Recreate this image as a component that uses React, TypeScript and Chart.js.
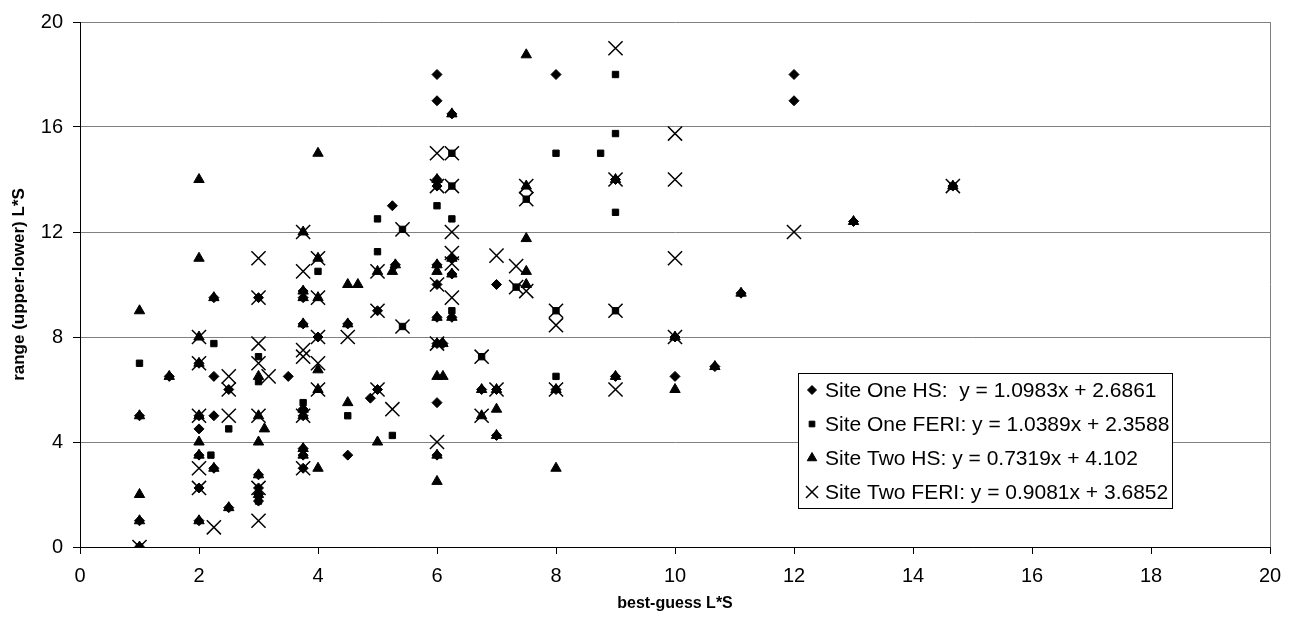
import React, { useEffect, useRef } from 'react';
import Chart from 'chart.js/auto';
import { drawPoint } from 'chart.js/helpers';

type P = [number, number];

// Site One HS (diamonds)
const siteOneHS: P[] = [
  [1, 0], [1, 1], [1, 5], [1.5, 6.5], [2, 1], [2, 2.25], [2, 3.5], [2, 4.5], [2, 5], [2, 7],
  [2.25, 3], [2.25, 5], [2.25, 6.5], [2.25, 9.5], [2.5, 1.5], [2.5, 6], [3, 1.75], [3, 2], [3, 2.25],
  [3, 2.75], [3, 9.5], [3.5, 6.5], [3.75, 3], [3.75, 3.5], [3.75, 3.75], [3.75, 5], [3.75, 5.25],
  [3.75, 8.5], [3.75, 9.5], [3.75, 9.75], [4, 8], [4.5, 3.5], [4.5, 8.5], [4.88, 5.67], [5, 6], [5, 9],
  [5.25, 13], [5.3, 10.75], [6, 3.5], [6, 5.5], [6, 7.75], [6, 8.75], [6, 10], [6, 10.75], [6, 13.75],
  [6, 14], [6, 17], [6, 18], [6.1, 7.75], [6.25, 8.75], [6.25, 10.4], [6.25, 11], [6.25, 16.5],
  [6.75, 6], [7, 4.25], [7, 6], [7, 10], [8, 6], [8, 18], [9, 6.5], [9, 14], [10, 6.5], [10, 8],
  [10.67, 6.875], [11.11, 9.67], [12, 17], [12, 18], [13, 12.4], [14.67, 13.75]
];

// Site One FERI (squares)
const siteOneFERI: P[] = [
  [1, 0], [1, 7], [2.2, 3.5], [2.25, 7.75], [2.5, 4.5], [3, 1.75], [3, 2], [3, 6.3], [3, 7.25],
  [3.75, 5.5], [4, 10.5], [4.5, 5], [5, 11.25], [5, 12.5], [5.25, 4.25], [5.42, 8.4], [5.42, 12.1],
  [6, 13], [6.25, 9], [6.25, 12.5], [6.25, 13.75], [6.25, 15], [6.75, 7.25], [7.33, 9.9], [7.5, 13.25],
  [8, 6.5], [8, 9], [8, 15], [8.75, 15], [9, 9], [9, 12.75], [9, 15.75], [9, 18], [14.67, 13.75]
];

// Site Two HS (triangles)
const siteTwoHS: P[] = [
  [1, 0], [1, 1], [1, 2], [1, 5], [1, 9], [1.5, 6.5], [2, 1], [2, 3.5], [2, 4], [2, 5], [2, 7], [2, 8],
  [2, 11], [2, 14], [2.25, 3], [2.25, 9.5], [2.5, 1.5], [3, 2.75], [3, 2], [3, 4], [3, 5], [3, 6.5],
  [3.1, 4.5], [3.75, 3.5], [3.75, 3.75], [3.75, 5], [3.75, 5.25], [3.75, 8.5], [3.75, 9.5], [3.75, 9.75],
  [3.75, 12], [4, 3], [4, 6], [4, 6.75], [4, 9.5], [4, 11], [4, 15], [4.5, 5.5], [4.5, 8.5], [4.5, 10],
  [4.67, 10], [5, 4], [5, 10.5], [5.25, 10.5], [5.3, 10.75], [6, 2.5], [6, 3.5], [6, 6.5], [6, 7.75],
  [6, 8.75], [6, 10.5], [6, 10.75], [6, 14], [6.1, 6.5], [6.1, 7.75], [6.25, 8.75], [6.25, 10.4],
  [6.25, 11], [6.25, 16.5], [6.75, 5], [6.75, 6], [7, 4.25], [7, 5.25], [7, 6], [7.5, 10], [7.5, 10.5],
  [7.5, 11.75], [7.5, 13.75], [7.5, 18.75], [8, 3], [8, 6], [9, 6.5], [9, 14], [10, 6], [10, 8],
  [10.67, 6.875], [11.11, 9.67], [13, 12.4], [14.67, 13.75]
];

// Site Two FERI (crosses)
const siteTwoFERI: P[] = [
  [1, 0], [2, 2.25], [2, 3], [2, 5], [2, 7], [2, 8], [2.25, 0.75], [2.5, 5], [2.5, 6], [2.5, 6.5],
  [3, 1], [3, 2.25], [3, 5], [3, 7], [3, 7.75], [3, 9.5], [3, 11], [3.17, 6.5], [3.75, 3], [3.75, 5],
  [3.75, 7.25], [3.75, 7.5], [3.75, 10.5], [3.75, 12], [4, 6], [4, 7], [4, 8], [4, 9.5], [4, 11],
  [4.5, 8], [5, 6], [5, 9], [5, 10.5], [5.25, 5.25], [5.42, 8.4], [5.42, 12.1], [6, 4], [6, 7.75],
  [6, 10], [6, 13.75], [6, 15], [6.25, 9.5], [6.25, 10.8], [6.25, 11.2], [6.25, 12], [6.25, 13.75],
  [6.25, 15], [6.75, 5], [6.75, 7.25], [7, 6], [7, 11.1], [7.33, 9.9], [7.33, 10.7], [7.5, 9.75],
  [7.5, 13.25], [7.5, 13.75], [8, 6], [8, 8.45], [8, 9], [9, 6], [9, 9], [9, 14], [9, 19], [10, 8],
  [10, 11], [10, 14], [10, 15.75], [12, 12], [14.67, 13.75]
];

const seriesLabels = [
  'Site One HS:  y = 1.0983x + 2.6861',
  'Site One FERI: y = 1.0389x + 2.3588',
  'Site Two HS: y = 0.7319x + 4.102',
  'Site Two FERI: y = 0.9081x + 3.6852',
];

const xTicks = [0, 2, 4, 6, 8, 10, 12, 14, 16, 18, 20];
const yTicks = [0, 4, 8, 12, 16, 20];
const xTitle = 'best-guess L*S';
const yTitle = 'range (upper-lower) L*S';

const FONT = '"Liberation Sans", Arial, Helvetica, sans-serif';

const markerStyles = [
  { style: 'rectRot', r: 5, bw: 1, lr: 4.5 },
  { style: 'rect', r: 4.5, bw: 1, lr: 4 },
  { style: 'triangle', r: 6, bw: 1, lr: 5.5 },
  { style: 'crossRot', r: 10, bw: 1.5, lr: 8.5 },
];

const legendPlugin = {
  id: 'boxLegend',
  afterDraw(chart: any) {
    const ctx = chart.ctx as CanvasRenderingContext2D;
    const left = 798, top = 373, w = 374, h = 135;
    ctx.save();
    ctx.fillStyle = '#fff';
    ctx.fillRect(left, top, w, h);
    ctx.strokeStyle = '#000';
    ctx.lineWidth = 1;
    ctx.strokeRect(left + 0.5, top + 0.5, w, h);
    ctx.font = `21px ${FONT}`;
    ctx.textBaseline = 'middle';
    ctx.textAlign = 'left';
    seriesLabels.forEach((label, i) => {
      const y = top + 17 + i * 34;
      const st = markerStyles[i];
      ctx.fillStyle = '#000';
      ctx.strokeStyle = '#000';
      ctx.lineWidth = st.bw;
      drawPoint(ctx, { pointStyle: st.style as any, radius: st.lr, rotation: 0, borderWidth: st.bw } as any, 812, y);
      ctx.fillStyle = '#000';
      ctx.fillText(label, 825, y + 1);
    });
    ctx.restore();
  },
};

const framePlugin = {
  id: 'frame',
  beforeDatasetsDraw(chart: any) {
    const { ctx, chartArea } = chart;
    ctx.save();
    ctx.strokeStyle = '#808080';
    ctx.lineWidth = 1;
    ctx.beginPath();
    ctx.moveTo(Math.round(chartArea.right) + 0.5, chartArea.top);
    ctx.lineTo(Math.round(chartArea.right) + 0.5, chartArea.bottom);
    ctx.stroke();
    ctx.restore();
  },
};

export default function App() {
  const ref = useRef<HTMLCanvasElement | null>(null);
  useEffect(() => {
    document.body.style.margin = '0';
    const canvas = ref.current;
    if (!canvas) return;
    const mk = (data: P[], i: number, label: string, order: number) => ({
      label,
      data: data.map(([x, y]) => ({ x, y })),
      pointStyle: markerStyles[i].style,
      pointRadius: markerStyles[i].r,
      pointHoverRadius: markerStyles[i].r,
      pointBorderWidth: markerStyles[i].bw,
      borderColor: '#000',
      backgroundColor: '#000',
      showLine: false,
      order,
    });
    const chart = new Chart(canvas, {
      type: 'scatter',
      data: {
        datasets: [
          mk(siteOneHS, 0, seriesLabels[0], 3),
          mk(siteOneFERI, 1, seriesLabels[1], 2),
          mk(siteTwoHS, 2, seriesLabels[2], 1),
          mk(siteTwoFERI, 3, seriesLabels[3], 0),
        ] as any,
      },
      options: {
        animation: false,
        responsive: false,
        devicePixelRatio: 1,
        layout: { padding: { top: 17, right: 28, left: 0, bottom: 0 } },
        plugins: { legend: { display: false }, tooltip: { enabled: false } },
        scales: {
          x: {
            type: 'linear',
            min: 0,
            max: 20,
            afterBuildTicks: (s: any) => { s.ticks = xTicks.map((v) => ({ value: v })); },
            afterFit: (s: any) => { s.height = 82; },
            grid: { drawOnChartArea: false, drawTicks: true, tickLength: 7, tickColor: '#000' },
            border: { color: '#000', width: 1 },
            ticks: { color: '#000', font: { family: FONT, size: 20 }, padding: 10, maxRotation: 0 },
            title: {
              display: true,
              text: xTitle,
              color: '#000',
              font: { family: FONT, size: 16, weight: 'bold' },
              padding: { top: 0, bottom: 16 },
            },
          },
          y: {
            type: 'linear',
            min: 0,
            max: 20,
            afterBuildTicks: (s: any) => { s.ticks = yTicks.map((v) => ({ value: v })); },
            afterFit: (s: any) => { s.width = 80; },
            grid: { color: '#808080', lineWidth: 1, drawTicks: true, tickLength: 7, tickColor: '#000' },
            border: { color: '#000', width: 1 },
            ticks: { color: '#000', font: { family: FONT, size: 20 }, padding: 10 },
            title: {
              display: true,
              text: yTitle,
              color: '#000',
              font: { family: FONT, size: 17, weight: 'bold' },
              padding: { top: 9, bottom: 0 },
            },
          },
        },
      } as any,
      plugins: [framePlugin, legendPlugin],
    });
    return () => chart.destroy();
  }, []);
  return (
    <div style={{ width: 1298, height: 629 }}>
      <canvas ref={ref} width={1298} height={629} style={{ display: 'block' }} />
    </div>
  );
}
